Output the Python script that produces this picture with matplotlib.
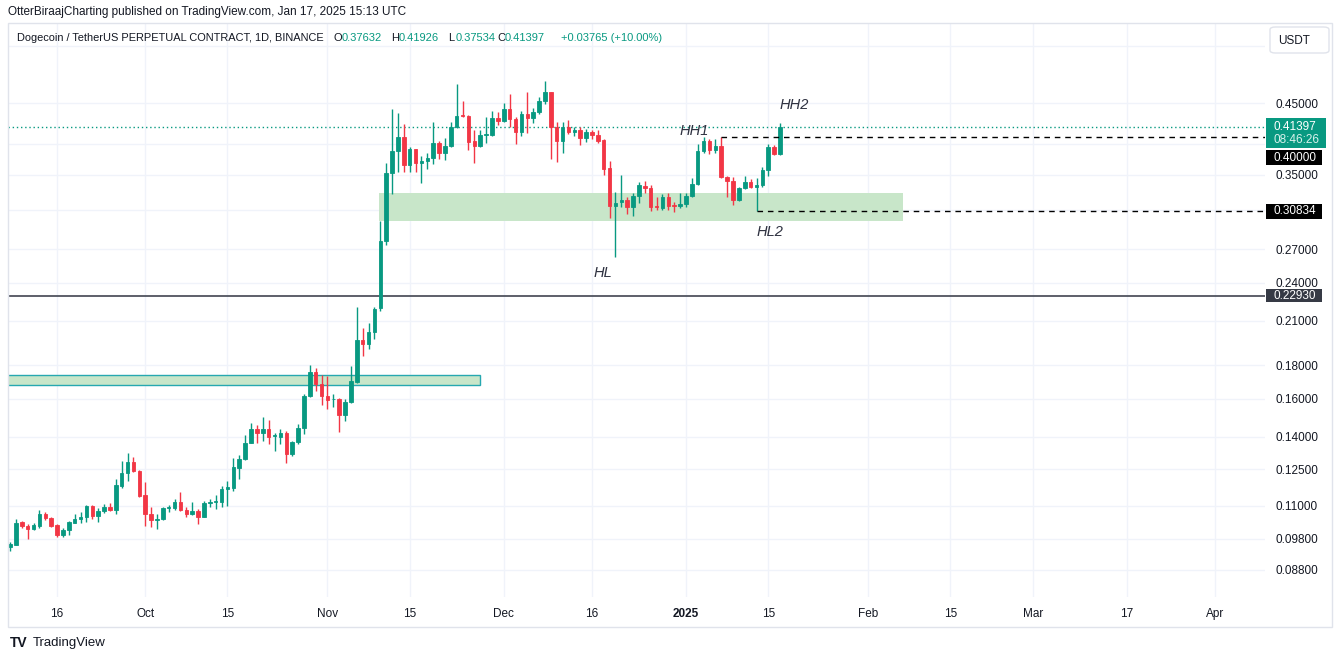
import numpy as np
import pandas as pd
import matplotlib
matplotlib.use('Agg')
import matplotlib.pyplot as plt
import matplotlib.dates as mdates
from matplotlib.patches import Rectangle, FancyBboxPatch
from matplotlib.ticker import NullLocator, NullFormatter

plt.rcParams['font.family'] = ['Liberation Sans', 'DejaVu Sans']

W, H = 1340, 659
UP = '#089981'
DOWN = '#f23645'
TXT = '#131722'
GRID = '#f0f3fa'

# daily candles DOGE/USDT perp
start_date = '2024-09-08'
opens = [0.0954, 0.0961, 0.1039, 0.1027, 0.1013, 0.1025, 0.1070, 0.1054, 0.1028, 0.0995,
         0.1012, 0.1037, 0.1051, 0.1057, 0.1099, 0.1063, 0.1080, 0.1096, 0.1084, 0.1180,
         0.1234, 0.1282, 0.1244, 0.1142, 0.1070, 0.1047, 0.1050, 0.1093, 0.1092, 0.1115,
         0.1084, 0.1071, 0.1081, 0.1059, 0.1111, 0.1115, 0.1114, 0.1168, 0.1170, 0.1257,
         0.1295, 0.1372, 0.1439, 0.1421, 0.1439, 0.1403, 0.1401, 0.1419, 0.1318, 0.1374,
         0.1442, 0.1615, 0.1758, 0.1685, 0.1618, 0.1597, 0.1600, 0.1513, 0.1582, 0.1696,
         0.1965, 0.1936, 0.2021, 0.2195, 0.2780, 0.3520, 0.3805, 0.3991, 0.3627, 0.3827,
         0.3645, 0.3674, 0.3709, 0.3908, 0.3782, 0.3872, 0.4142, 0.4315, 0.4304, 0.3940,
         0.3872, 0.4020, 0.4020, 0.4270, 0.4225, 0.4411, 0.4255, 0.4066, 0.4335, 0.4274,
         0.4357, 0.4532, 0.4676, 0.4142, 0.3940, 0.4137, 0.4066, 0.4094, 0.3982, 0.4066,
         0.4024, 0.3954, 0.3581, 0.3142, 0.3181, 0.3206, 0.3128, 0.3247, 0.3370, 0.3343,
         0.3136, 0.3120, 0.3242, 0.3150, 0.3142, 0.3158, 0.3251, 0.3386, 0.3805, 0.3940,
         0.3818, 0.3872, 0.3478, 0.3426, 0.3206, 0.3339, 0.3414, 0.3358, 0.3378, 0.3560,
         0.3855, 0.37632]
highs = [0.0971, 0.1051, 0.1044, 0.1033, 0.1035, 0.1085, 0.1076, 0.1059, 0.1033, 0.1018,
         0.1044, 0.1071, 0.1075, 0.1105, 0.1103, 0.1091, 0.1108, 0.1110, 0.1207, 0.1287,
         0.1323, 0.1305, 0.1247, 0.1196, 0.1096, 0.1070, 0.1096, 0.1104, 0.1128, 0.1156,
         0.1097, 0.1115, 0.1089, 0.1118, 0.1126, 0.1143, 0.1180, 0.1199, 0.1302, 0.1314,
         0.1410, 0.1468, 0.1460, 0.1500, 0.1485, 0.1421, 0.1437, 0.1428, 0.1382, 0.1465,
         0.1627, 0.1799, 0.1781, 0.1737, 0.1733, 0.1625, 0.1605, 0.1600, 0.1795, 0.2203,
         0.2047, 0.2088, 0.2208, 0.2981, 0.3653, 0.4402, 0.4350, 0.4177, 0.3863, 0.3835,
         0.3739, 0.3774, 0.4205, 0.3940, 0.3977, 0.4211, 0.4808, 0.4536, 0.4310, 0.4094,
         0.4094, 0.4290, 0.4382, 0.4366, 0.4500, 0.4644, 0.4290, 0.4382, 0.4671, 0.4426,
         0.4600, 0.4855, 0.4680, 0.4215, 0.4215, 0.4240, 0.4133, 0.4133, 0.4104, 0.4098,
         0.4094, 0.3964, 0.3678, 0.3293, 0.3499, 0.3242, 0.3281, 0.3414, 0.3426, 0.3378,
         0.3242, 0.3270, 0.3281, 0.3187, 0.3281, 0.3281, 0.3458, 0.3899, 0.3995, 0.3964,
         0.3964, 0.4000, 0.3487, 0.3470, 0.3358, 0.3487, 0.3446, 0.3465, 0.3602, 0.3899,
         0.3885, 0.41926]
lows = [0.0941, 0.0958, 0.1018, 0.0980, 0.1010, 0.1019, 0.1046, 0.1023, 0.0987, 0.0988,
        0.0995, 0.1035, 0.1037, 0.1041, 0.1050, 0.1041, 0.1072, 0.1082, 0.1071, 0.1171,
        0.1200, 0.1240, 0.1134, 0.1025, 0.1023, 0.1013, 0.1047, 0.1076, 0.1086, 0.1081,
        0.1058, 0.1065, 0.1032, 0.1057, 0.1095, 0.1089, 0.1095, 0.1101, 0.1160, 0.1208,
        0.1292, 0.1369, 0.1372, 0.1379, 0.1367, 0.1335, 0.1364, 0.1279, 0.1310, 0.1364,
        0.1415, 0.1608, 0.1646, 0.1565, 0.1543, 0.1554, 0.1425, 0.1480, 0.1578, 0.1690,
        0.1856, 0.1905, 0.1974, 0.2177, 0.2739, 0.3279, 0.3531, 0.3531, 0.3531, 0.3531,
        0.3405, 0.3573, 0.3639, 0.3700, 0.3687, 0.3855, 0.4118, 0.4290, 0.3818, 0.3652,
        0.3863, 0.3908, 0.4006, 0.4167, 0.4215, 0.4142, 0.3899, 0.4014, 0.4048, 0.4192,
        0.4330, 0.4480, 0.3696, 0.3657, 0.3775, 0.4038, 0.4014, 0.3881, 0.3926, 0.3964,
        0.3917, 0.3499, 0.3007, 0.2629, 0.3124, 0.3052, 0.3031, 0.3170, 0.3289, 0.3084,
        0.3095, 0.3095, 0.3095, 0.3074, 0.3113, 0.3124, 0.3243, 0.3374, 0.3775, 0.3765,
        0.3775, 0.3458, 0.3242, 0.3150, 0.3198, 0.3328, 0.3339, 0.30834, 0.3358, 0.3487,
        0.3752, 0.37534]
closes = [0.0963, 0.1037, 0.1027, 0.1013, 0.1028, 0.1070, 0.1053, 0.1025, 0.0995, 0.1012,
          0.1039, 0.1051, 0.1057, 0.1100, 0.1063, 0.1080, 0.1097, 0.1084, 0.1183, 0.1234,
          0.1282, 0.1243, 0.1138, 0.1068, 0.1047, 0.1051, 0.1092, 0.1097, 0.1115, 0.1084,
          0.1071, 0.1081, 0.1059, 0.1112, 0.1116, 0.1118, 0.1167, 0.1175, 0.1259, 0.1296,
          0.1372, 0.1439, 0.1421, 0.1439, 0.1398, 0.1408, 0.1419, 0.1318, 0.1377, 0.1443,
          0.1615, 0.1758, 0.1683, 0.1617, 0.1593, 0.1600, 0.1513, 0.1582, 0.1701, 0.1965,
          0.1936, 0.2021, 0.2192, 0.2780, 0.3520, 0.3805, 0.3991, 0.3629, 0.3827, 0.3645,
          0.3674, 0.3709, 0.3908, 0.3782, 0.3872, 0.4142, 0.4304, 0.4300, 0.3930, 0.3872,
          0.4024, 0.4038, 0.4270, 0.4225, 0.4411, 0.4255, 0.4066, 0.4335, 0.4274, 0.4362,
          0.4532, 0.4676, 0.4142, 0.3940, 0.4142, 0.4066, 0.4094, 0.3982, 0.4066, 0.4024,
          0.3940, 0.3573, 0.3142, 0.3175, 0.3206, 0.3128, 0.3247, 0.3374, 0.3343, 0.3128,
          0.3124, 0.3242, 0.3142, 0.3139, 0.3158, 0.3254, 0.3386, 0.3805, 0.3940, 0.3818,
          0.3872, 0.3478, 0.3426, 0.3206, 0.3339, 0.3414, 0.3358, 0.3378, 0.3560, 0.3855,
          0.3763, 0.41397]

tick_dates = ['2024-09-16', '2024-10-01', '2024-10-15', '2024-11-01', '2024-11-15',
              '2024-12-01', '2024-12-16', '2025-01-01', '2025-01-15', '2025-02-01',
              '2025-02-15', '2025-03-01', '2025-03-17', '2025-04-01']
tick_labels = ['16', 'Oct', '15', 'Nov', '15', 'Dec', '16', '2025', '15', 'Feb',
               '15', 'Mar', '17', 'Apr']
price_ticks = [0.088, 0.098, 0.11, 0.125, 0.14, 0.16, 0.18, 0.21, 0.24, 0.27,
               0.31, 0.35, 0.39, 0.45, 0.55]
hidden_ticks = [0.31, 0.39, 0.55]   # covered by the price tags

last_price = 0.41397
support = 0.2293
hh1_level, hh1_date = 0.40, '2025-01-07'
hl2_level, hl2_date = 0.30834, '2025-01-13'
zone_low, zone_high = 0.2982, 0.3281
zone_start, zone_end = '2024-11-09 19:00', '2025-02-06 22:00'
old_low, old_high = 0.1676, 0.1741
old_end = '2024-11-27'

dates = pd.date_range(start_date, periods=len(opens), freq='D')
x = mdates.date2num(dates)
o = np.array(opens); h = np.array(highs); l = np.array(lows); c = np.array(closes)
cols = np.where(c >= o, UP, DOWN)

fig = plt.figure(figsize=(W / 100, H / 100), dpi=100)
fig.patch.set_facecolor('white')
pane_l, pane_r, pane_t, pane_b = 8, 1265, 23, 597
ax = fig.add_axes([pane_l / W, 1 - pane_b / H, (pane_r - pane_l) / W, (pane_b - pane_t) / H])

px_per_day = 5.878
x0 = x[0] - (10 - pane_l) / px_per_day
x1 = x0 + (pane_r - pane_l) / px_per_day
ax.set_xlim(x0, x1)
ax.set_yscale('log')
ax.set_ylim(0.45 * np.exp(-(pane_b - 103) / 286), 0.45 * np.exp((103 - pane_t) / 286))

# zones
ax.add_patch(Rectangle((mdates.datestr2num(zone_start), zone_low),
                       mdates.datestr2num(zone_end) - mdates.datestr2num(zone_start),
                       zone_high - zone_low, facecolor='#c8e6c9', edgecolor='none', zorder=1))
ax.add_patch(Rectangle((x0 - 1, old_low), mdates.datestr2num(old_end) - x0 + 1,
                       old_high - old_low, facecolor='#c8e6c9', edgecolor='#26a8b0',
                       linewidth=1.0, zorder=1))

# candles
ax.vlines(x, l, h, colors=cols, linewidth=1.0, zorder=3)
ax.bar(x, np.abs(c - o), bottom=np.minimum(o, c), width=0.6, color=cols,
       edgecolor=cols, linewidth=0.6, zorder=4)

# lines
ax.axhline(support, color='#50535e', linewidth=1.3, zorder=2)
ax.axhline(last_price, color=UP, linewidth=1.0, linestyle=(0, (1, 2)), zorder=2)
ax.hlines(hh1_level, mdates.datestr2num(hh1_date), x1, colors='black', linewidth=1.0,
          linestyles=(0, (4, 3.5)), zorder=5)
ax.hlines(hl2_level, mdates.datestr2num(hl2_date), x1, colors='black', linewidth=1.0,
          linestyles=(0, (4, 3.5)), zorder=5)

# swing labels
lab_kw = dict(fontsize=10.5, style='italic', color='#2f3241', ha='center', va='center', zorder=6)
ax.text(mdates.datestr2num('2025-01-02 10:00'), 0.4080, 'HH1', **lab_kw)
ax.text(mdates.datestr2num('2025-01-19 12:00'), 0.4469, 'HH2', **lab_kw)
ax.text(mdates.datestr2num('2024-12-17 19:00'), 0.2481, 'HL', **lab_kw)
ax.text(mdates.datestr2num('2025-01-15 07:00'), 0.2869, 'HL2', **lab_kw)

# axes styling
ax.set_xticks(mdates.datestr2num(tick_dates), labels=tick_labels)
for t in ax.get_xticklabels():
    if t.get_text() == '2025':
        t.set_fontweight('bold')
ax.yaxis.set_minor_locator(NullLocator())
ax.yaxis.set_minor_formatter(NullFormatter())
ax.set_yticks(price_ticks, labels=['' if p in hidden_ticks else f'{p:.5f}' for p in price_ticks])
ax.yaxis.tick_right()
ax.tick_params(axis='y', length=0, pad=7.5, labelsize=8.5, labelcolor=TXT)
ax.tick_params(axis='x', length=0, pad=8, labelsize=8.5, labelcolor=TXT)
ax.grid(True, color=GRID, linewidth=1.0, zorder=0)
ax.set_axisbelow(True)
for s in ax.spines.values():
    s.set_visible(False)


def py(price):
    return H - ax.transData.transform((x0, price))[1]


def tag(ycen, text, fc, height=15, width=56):
    fig.patches.append(Rectangle((1266 / W, 1 - (ycen + height / 2) / H), width / W, height / H,
                                 transform=fig.transFigure, facecolor=fc, edgecolor='none', zorder=5))
    fig.text(1273 / W, 1 - ycen / H, text, color='white', fontsize=8.5, va='center', ha='left', zorder=6)


# price tags on the axis
yl = py(last_price)
fig.patches.append(Rectangle((1266 / W, 1 - (yl + 21) / H), 60 / W, 30 / H,
                             transform=fig.transFigure, facecolor=UP, edgecolor='none', zorder=5))
fig.text(1273 / W, 1 - yl / H, f'{last_price:.5f}', color='white', fontsize=8.5, va='center', zorder=6)
fig.text(1273 / W, 1 - (yl + 13.5) / H, '08:46:26', color='#d8f2ec', fontsize=8.5, va='center', zorder=6)
tag(yl + 31, f'{hh1_level:.5f}', 'black')
tag(py(hl2_level), f'{hl2_level:.5f}', 'black')
tag(py(support), f'{support:.5f}', '#363a45', height=13)

# currency box
fig.patches.append(FancyBboxPatch((1270 / W, 1 - 53 / H), 59 / W, 26 / H,
                                  boxstyle='round,pad=0,rounding_size=0.004',
                                  transform=fig.transFigure, facecolor='white',
                                  edgecolor='#e0e3eb', linewidth=1.0, zorder=5))
fig.text(1278 / W, 1 - 41 / H, 'USDT', color=TXT, fontsize=8.5, va='center', zorder=6)

# outer frame
fig.patches.append(Rectangle((8 / W, 1 - 627 / H), 1324 / W, 604 / H, transform=fig.transFigure,
                             facecolor='none', edgecolor='#e0e3eb', linewidth=1.0, zorder=1))

# header
fig.text(8 / W, 1 - 12 / H, 'OtterBiraajCharting published on TradingView.com, Jan 17, 2025 15:13 UTC',
         color=TXT, fontsize=8.5, va='center')
fig.text(17 / W, 1 - 38 / H, 'Dogecoin / TetherUS PERPETUAL CONTRACT, 1D, BINANCE',
         color=TXT, fontsize=7.9, va='center')
legend = [(334, 'O', f'{opens[-1]:.5f}'), (391, 'H', f'{highs[-1]:.5f}'),
          (448, 'L', f'{lows[-1]:.5f}'), (497, 'C', f'{closes[-1]:.5f}')]
for xp, k, v in legend:
    fig.text(xp / W, 1 - 38 / H, k, color=TXT, fontsize=8, va='center')
    fig.text((xp + 7.5) / W, 1 - 38 / H, v, color=UP, fontsize=8, va='center')
chg = closes[-1] - opens[-1]
fig.text(561 / W, 1 - 38 / H, f'+{chg:.5f} (+{chg / opens[-1] * 100:.2f}%)',
         color=UP, fontsize=8, va='center')

# footer logo
fig.text(10 / W, 1 - 643 / H, 'TV', color=TXT, fontsize=10, fontweight='heavy', va='center')
fig.text(33 / W, 1 - 643 / H, 'TradingView', color=TXT, fontsize=9.5, va='center')

fig.savefig('out.png', dpi=100, facecolor='white')
